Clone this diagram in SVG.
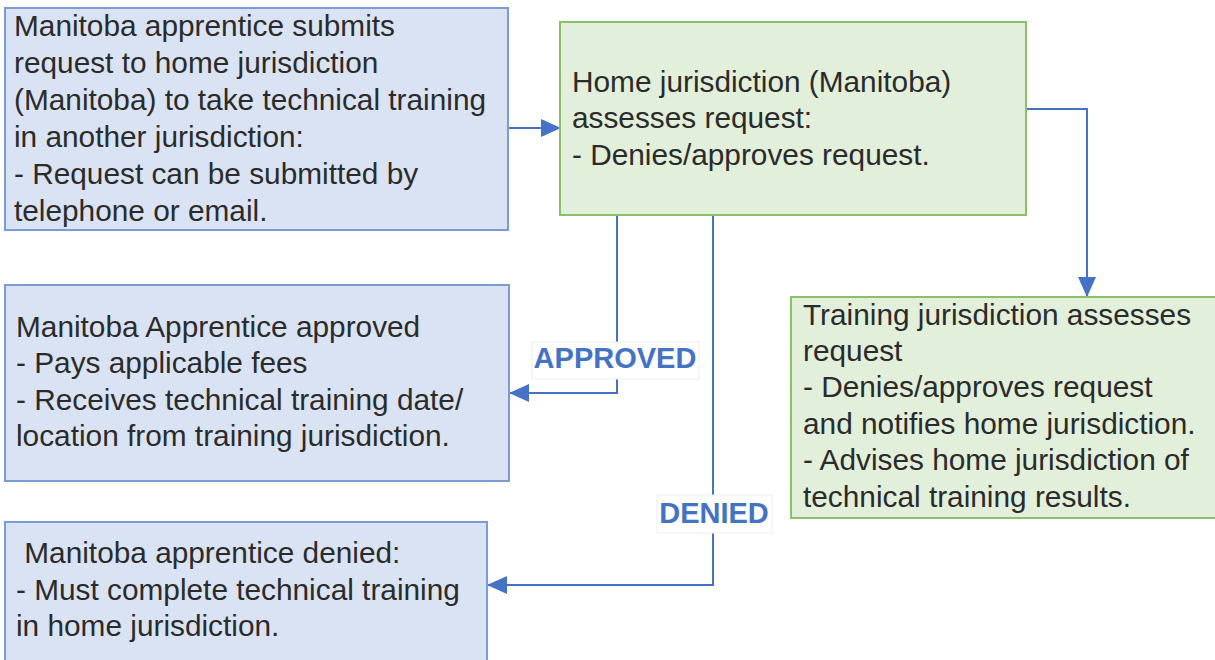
<svg xmlns="http://www.w3.org/2000/svg" width="1215" height="660" viewBox="0 0 1215 660">
<defs>
<style>
.blue{fill:#dae3f3;stroke:#7b9ad6;stroke-width:2}
.green{fill:#e2efda;stroke:#8cbf6a;stroke-width:2}
.t{font-family:"Liberation Sans",Arial,sans-serif;font-size:29.8px;fill:#2b2b2b}
.lbl{font-family:"Liberation Sans",Arial,sans-serif;font-size:29px;font-weight:bold;fill:#4472c4;text-anchor:middle}
.lblbg{fill:#ffffff;stroke:#eeeeee;stroke-width:1}
.c{fill:none;stroke:#4472c4;stroke-width:2}
</style>
<marker id="arr" markerUnits="userSpaceOnUse" markerWidth="22" markerHeight="20" refX="20" refY="9" orient="auto">
<path d="M0,0 L20,9 L0,18 Z" fill="#4472c4"/>
</marker>
</defs>
<rect width="1215" height="660" fill="#ffffff"/>
<g id="connectors">
<path class="c" d="M508,128 L561,128" marker-end="url(#arr)"/>
<path class="c" d="M1026,109 L1087,109 L1087,297" marker-end="url(#arr)"/>
<path class="c" d="M617,215 L617,393 L509,393" marker-end="url(#arr)"/>
<path class="c" d="M713,215 L713,585 L487,585" marker-end="url(#arr)"/>
<g id="label-approved">
<rect class="lblbg" x="532" y="342" width="167" height="37"/>
<text class="lbl" x="615" y="368">APPROVED</text>
</g>
<g id="label-denied">
<rect class="lblbg" x="657" y="495" width="115" height="38"/>
<text class="lbl" x="714" y="523">DENIED</text>
</g>
</g>
<g id="node-submit">
<rect class="blue" x="5" y="8" width="503" height="222"/>
<text class="t" x="14" y="36">Manitoba apprentice submits</text>
<text class="t" x="14" y="73">request to home jurisdiction</text>
<text class="t" x="14" y="110">(Manitoba) to take technical training</text>
<text class="t" x="14" y="147">in another jurisdiction:</text>
<text class="t" x="14" y="184">- Request can be submitted by</text>
<text class="t" x="14" y="221">telephone or email.</text>
</g>
<g id="node-home">
<rect class="green" x="560" y="22" width="466" height="193"/>
<text class="t" x="572" y="92">Home jurisdiction (Manitoba)</text>
<text class="t" x="572" y="128">assesses request:</text>
<text class="t" x="572" y="165">- Denies/approves request.</text>
</g>
<g id="node-approved">
<rect class="blue" x="5" y="285" width="504" height="196"/>
<text class="t" x="16" y="337">Manitoba Apprentice approved</text>
<text class="t" x="16" y="373">- Pays applicable fees</text>
<text class="t" x="16" y="410">- Receives technical training date/</text>
<text class="t" x="16" y="446">location from training jurisdiction.</text>
</g>
<g id="node-denied">
<rect class="blue" x="5" y="522" width="482" height="150"/>
<text class="t" x="16" y="563" xml:space="preserve"> Manitoba apprentice denied:</text>
<text class="t" x="16" y="600">- Must complete technical training</text>
<text class="t" x="16" y="636">in home jurisdiction.</text>
</g>
<g id="node-training">
<rect class="green" x="791" y="297" width="430" height="221"/>
<text class="t" x="803" y="325">Training jurisdiction assesses</text>
<text class="t" x="803" y="361">request</text>
<text class="t" x="803" y="397">- Denies/approves request</text>
<text class="t" x="803" y="434">and notifies home jurisdiction.</text>
<text class="t" x="803" y="470">- Advises home jurisdiction of</text>
<text class="t" x="803" y="507">technical training results.</text>
</g>
</svg>
